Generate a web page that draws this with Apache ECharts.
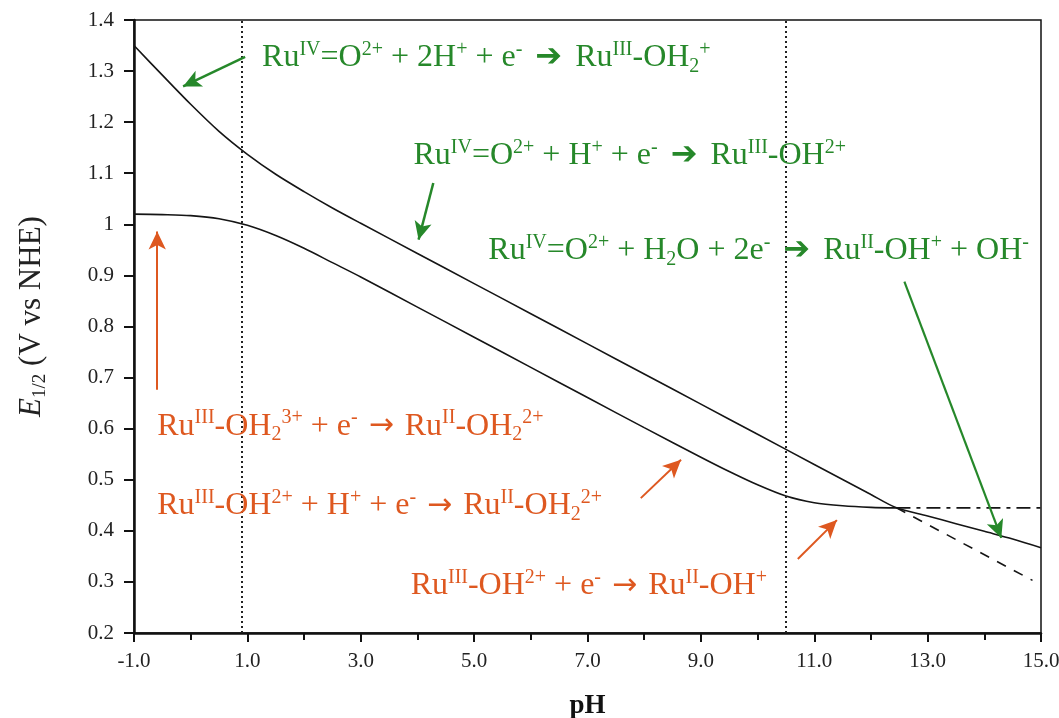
<!DOCTYPE html>
<html>
<head>
<meta charset="utf-8">
<script src="https://cdn.jsdelivr.net/npm/echarts@6/dist/echarts.min.js"></script>
<style>html,body{margin:0;padding:0;background:#fff}#c{width:1059px;height:718px}</style>
</head>
<body>
<div id="c"></div>
<script>
// ---- data ----
const pH_upper = [-1, -0.5, 0, 0.5, 1, 1.5, 2, 2.5, 3, 4, 5, 6, 7, 8, 9, 10, 11, 12, 12.45, 13, 13.5, 14, 14.5, 15];
const E_upper  = [1.350, 1.292, 1.235, 1.182, 1.137, 1.098, 1.064, 1.032, 1.002, 0.943, 0.884, 0.825, 0.766, 0.707, 0.648, 0.589, 0.530, 0.471, 0.445, 0.429, 0.414, 0.399, 0.384, 0.367];

const pH_lower = [-1, -0.5, 0, 0.5, 1, 1.5, 2, 2.5, 3, 4, 5, 6, 7, 8, 9, 9.5, 10, 10.5, 11, 11.5, 12, 12.45];
const E_lower  = [1.020, 1.019, 1.017, 1.011, 0.998, 0.978, 0.953, 0.925, 0.897, 0.838, 0.779, 0.720, 0.661, 0.602, 0.544, 0.516, 0.490, 0.468, 0.455, 0.449, 0.446, 0.445];

const pH_dashFlat  = [12.45, 15];
const E_dashFlat   = [0.445, 0.445];
const pH_dashSlope = [12.45, 14.85];
const E_dashSlope  = [0.445, 0.303];

const pKaLines = [0.9, 10.5];

const xTicks = [-1, 1, 3, 5, 7, 9, 11, 13, 15];
const yTicks = [0.2, 0.3, 0.4, 0.5, 0.6, 0.7, 0.8, 0.9, 1.0, 1.1, 1.2, 1.3, 1.4];

// ---- helpers ----
const zip = (xs, ys) => xs.map((x, i) => [x, ys[i]]);
const GREEN = '#26882a';
const ORANGE = '#de5820';
const SERIF = 'Liberation Serif';

function richFor(color) {
  return {
    n:   { fontFamily: SERIF, fontSize: 32, lineHeight: 42, color: color, verticalAlign: 'middle' },
    sup: { fontFamily: SERIF, fontSize: 20, lineHeight: 20, color: color, verticalAlign: 'top', padding: [3, 0, 0, 0] },
    sub: { fontFamily: SERIF, fontSize: 20, lineHeight: 20, color: color, verticalAlign: 'bottom', padding: [0, 0, 2, 0] },
    ar:  { fontFamily: 'DejaVu Sans', fontSize: 32, lineHeight: 42, color: color, verticalAlign: 'middle', padding: [0, 13, 0, 13] },
    ao:  { fontFamily: 'DejaVu Sans', fontSize: 30, lineHeight: 42, color: color, verticalAlign: 'middle', padding: [0, 11, 0, 11] }
  };
}

function note(coord, text, color) {
  return {
    coord: coord,
    symbol: 'circle',
    symbolSize: 0,
    label: {
      show: true, position: 'right', distance: 0,
      formatter: text, rich: richFor(color)
    }
  };
}

function arrow(from, to, color, width) {
  return [
    { coord: from, lineStyle: { color: color, width: width, type: 'solid' } },
    { coord: to }
  ];
}

const notes = [
  note([1.26, 1.326], '{n|Ru}{sup|IV}{n|=O}{sup|2+}{n| + 2H}{sup|+}{n| + e}{sup|-}{ar|➔}{n|Ru}{sup|III}{n|-OH}{sub|2}{sup|+}', GREEN),
  note([3.93, 1.134], '{n|Ru}{sup|IV}{n|=O}{sup|2+}{n| + H}{sup|+}{n| + e}{sup|-}{ar|➔}{n|Ru}{sup|III}{n|-OH}{sup|2+}', GREEN),
  note([5.25, 0.948], '{n|Ru}{sup|IV}{n|=O}{sup|2+}{n| + H}{sub|2}{n|O + 2e}{sup|-}{ar|➔}{n|Ru}{sup|II}{n|-OH}{sup|+}{n| + OH}{sup|-}', GREEN),
  note([-0.59, 0.605], '{n|Ru}{sup|III}{n|-OH}{sub|2}{sup|3+}{n| + e}{sup|-}{ao|→}{n|Ru}{sup|II}{n|-OH}{sub|2}{sup|2+}', ORANGE),
  note([-0.59, 0.449], '{n|Ru}{sup|III}{n|-OH}{sup|2+}{n| + H}{sup|+}{n| + e}{sup|-}{ao|→}{n|Ru}{sup|II}{n|-OH}{sub|2}{sup|2+}', ORANGE),
  note([3.88, 0.292], '{n|Ru}{sup|III}{n|-OH}{sup|2+}{n| + e}{sup|-}{ao|→}{n|Ru}{sup|II}{n|-OH}{sup|+}', ORANGE)
];

const arrows = [
  arrow([0.96, 1.328], [-0.134, 1.270], GREEN, 2.5),
  arrow([4.28, 1.081], [4.02, 0.970], GREEN, 2.5),
  arrow([12.59, 0.888], [14.30, 0.386], GREEN, 2.2),
  arrow([-0.59, 0.676], [-0.59, 0.986], ORANGE, 2),
  arrow([7.94, 0.464], [8.65, 0.539], ORANGE, 2),
  arrow([10.71, 0.345], [11.40, 0.421], ORANGE, 2)
];

const chart = echarts.init(document.getElementById('c'), null, { renderer: 'canvas' });

const option = {
  backgroundColor: '#ffffff',
  animation: false,
  grid: {
    left: 134, right: 18, top: 20, bottom: 85, containLabel: false, outerBoundsMode: 'none',
    show: true, borderColor: '#111', borderWidth: 1.5, backgroundColor: 'transparent'
  },
  xAxis: {
    type: 'value', min: xTicks[0], max: xTicks[xTicks.length - 1], interval: 2,
    name: 'pH', nameLocation: 'middle', nameGap: 60,
    nameTextStyle: { fontFamily: SERIF, fontSize: 27, fontWeight: 'bold', color: '#111' },
    axisLine: { show: true, onZero: false, lineStyle: { color: '#111', width: 2.5 } },
    axisTick: { show: true, inside: false, length: 9, lineStyle: { color: '#111', width: 2 } },
    minorTick: { show: true, splitNumber: 2, length: 7, lineStyle: { color: '#111', width: 2 } },
    splitLine: { show: false },
    axisLabel: { margin: 18, fontFamily: SERIF, fontSize: 21, color: '#222', formatter: v => v.toFixed(1) }
  },
  yAxis: {
    type: 'value', min: yTicks[0], max: yTicks[yTicks.length - 1], interval: 0.1,
    name: '{i|E}{s|1/2}{n| (V vs NHE)}', nameLocation: 'middle', nameGap: 84,
    nameTextStyle: {
      color: '#222', padding: [0, 0, 0, 20],
      rich: {
        i: { fontFamily: SERIF, fontStyle: 'italic', fontSize: 31, lineHeight: 36, color: '#222', verticalAlign: 'middle' },
        s: { fontFamily: SERIF, fontSize: 19, lineHeight: 19, color: '#222', verticalAlign: 'bottom' },
        n: { fontFamily: SERIF, fontSize: 31, lineHeight: 36, color: '#222', verticalAlign: 'middle' }
      }
    },
    axisLine: { show: true, onZero: false, lineStyle: { color: '#111', width: 2.5 } },
    axisTick: { show: true, inside: false, length: 10, lineStyle: { color: '#111', width: 2 } },
    splitLine: { show: false },
    axisLabel: { margin: 20, fontFamily: SERIF, fontSize: 21, color: '#222', formatter: v => String(+v.toFixed(1)) }
  },
  series: [
    {
      name: 'Ru(IV)/Ru(III) and Ru(IV)/Ru(II)', type: 'line', data: zip(pH_upper, E_upper),
      smooth: 0.3, symbol: 'none', lineStyle: { color: '#151515', width: 1.6 }, z: 3,
      markLine: {
        silent: true, symbol: ['none', 'none'], label: { show: false },
        lineStyle: { color: '#222', width: 2, type: [2, 3] },
        data: pKaLines.map(v => ({ xAxis: v }))
      },
      markPoint: { silent: true, data: notes }
    },
    {
      name: 'Ru(III)/Ru(II)', type: 'line', data: zip(pH_lower, E_lower),
      smooth: 0.3, symbol: 'none', lineStyle: { color: '#151515', width: 1.6 }, z: 3,
      markLine: {
        silent: true, symbol: ['none', 'arrow'], symbolSize: [13, 18], label: { show: false },
        data: arrows
      }
    },
    {
      name: 'Ru(III)/Ru(II) extrapolated', type: 'line', data: zip(pH_dashFlat, E_dashFlat),
      symbol: 'none', lineStyle: { color: '#151515', width: 1.6, type: [14, 6, 4, 6] }
    },
    {
      name: 'Ru(IV)/Ru(III) extrapolated', type: 'line', data: zip(pH_dashSlope, E_dashSlope),
      symbol: 'none', lineStyle: { color: '#151515', width: 1.6, type: [10, 9] }
    }
  ]
};
chart.setOption(option);
</script>
</body>
</html>
